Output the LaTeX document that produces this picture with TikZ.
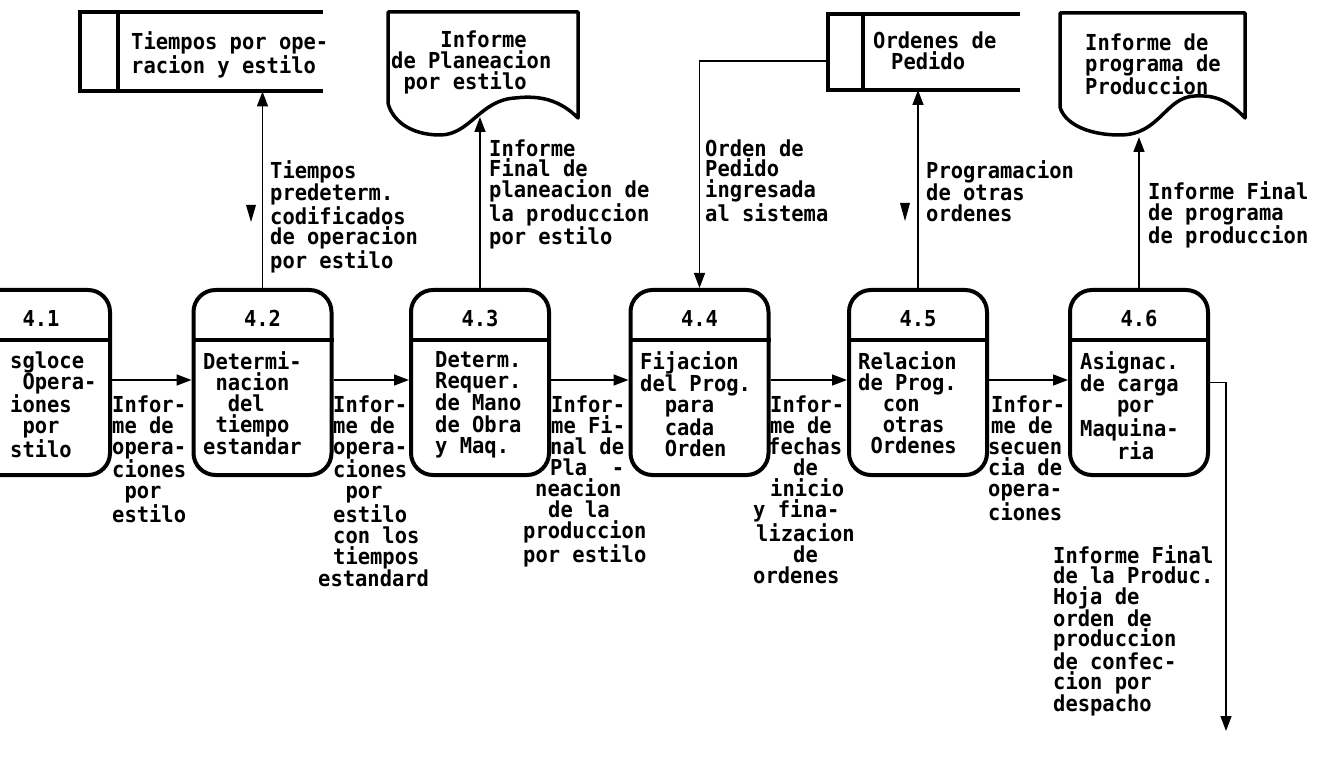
\documentclass[tikz,border=0pt]{standalone}
\usepackage{fontspec}
\newfontfamily\dmono[FakeStretch=0.93]{DejaVu Sans Mono}
\usetikzlibrary{arrows.meta}
\newlength\cw
\setlength\cw{12.32pt}
\newcommand\ind[1]{\hspace*{#1\cw}}
\newcommand\asc{\vphantom{Ifdl}}
\tikzset{
  proc/.style={draw, line width=4pt, rectangle, rounded corners=22pt, minimum width=138pt, minimum height=185pt, inner sep=0pt},
  divline/.style={line width=4pt},
  box0/.style={inner sep=0pt, outer sep=0pt, rectangle},
  store/.style={line width=4pt},
  doc/.style={line width=3.5pt, line join=round},
  flow/.style={line width=1.5pt, -{Triangle[length=15pt,width=11pt]}},
  lab/.style={font=\dmono\bfseries\fontsize{22}{21.1}\selectfont, inner sep=0pt, align=left, anchor=north west, yshift=16.72pt, execute at begin node=\asc},
  labt/.style={lab, font=\dmono\bfseries\fontsize{22}{20.7}\selectfont},
  ttl/.style={font=\dmono\bfseries\fontsize{22}{21}\selectfont, inner sep=0pt, anchor=base},
  tri/.style={fill=black}
}
\begin{document}
\begin{tikzpicture}[x=1pt,y=-1pt]
\useasboundingbox (0,0) rectangle (1323,759);
\clip (0,0) rectangle (1323,759);

% process boxes
\foreach \n/\cx in {41/41, 42/262.5, 43/480, 44/699.5, 45/918, 46/1139}{
  \node[proc] (p\n) at (\cx,382.5) {};
  \draw[divline] (p\n.west |- 0,340) -- (p\n.east |- 0,340);
}
\node[ttl] (t41) at (p41.center |- 0,327) {4.1};
\node[ttl] (t42) at (p42.center |- 0,327) {4.2};
\node[ttl] (t43) at (p43.center |- 0,327) {4.3};
\node[ttl] (t44) at (p44.center |- 0,327) {4.4};
\node[ttl] (t45) at (p45.center |- 0,327) {4.5};
\node[ttl] (t46) at (p46.center |- 0,327) {4.6};

\node[lab] (b41) at (10,368) {sgloce\\\ind{1}Opera-\\iones\\\ind{1}por\\stilo};
\node[lab] (b42) at (203,368) {Determi-\\\ind{1}nacion\\\ind{2}del\\\ind{1}tiempo\\estandar};
\node[lab] (b43) at (435,368) {Determ.\\Requer.\\de Mano\\de Obra\\y Maq.};
\node[lab] (b44) at (640,368) {Fijacion\\del Prog.\\\ind{2}para\\\ind{2}cada\\\ind{2}Orden};
\node[lab] (b45) at (858,368) {Relacion\\de Prog.\\\ind{2}con\\\ind{2}otras\\\ind{1}Ordenes};
\node[lab] (b46) at (1080,368) {Asignac.\\de carga\\\ind{3}por\\Maquina-\\\ind{3}ria};

% horizontal flows
\draw[flow] ([yshift=2.5pt]p41.east) -- ([yshift=2.5pt]p42.west);
\draw[flow] ([yshift=2.5pt]p42.east) -- ([yshift=2.5pt]p43.west);
\draw[flow] ([yshift=2.5pt]p43.east) -- ([yshift=2.5pt]p44.west);
\draw[flow] ([yshift=2.5pt]p44.east) -- ([yshift=2.5pt]p45.west);
\draw[flow] ([yshift=2.5pt]p45.east) -- ([yshift=2.5pt]p46.west);

\node[lab] (l12) at (112,412) {Infor-\\me de\\opera-\\ciones\\\ind{1}por\\estilo};
\node[lab] (l23) at (333,412) {Infor-\\me de\\opera-\\ciones\\\ind{1}por\\estilo\\con los\\tiempos\\\hspace*{-15pt}estandard};
\node[lab] (l34) at (523,412) {\hspace*{28pt}Infor-\\\hspace*{28pt}me Fi-\\\hspace*{27pt}nal de\\\hspace*{27pt}Pla\ind{2}-\\\hspace*{12pt}neacion\\\hspace*{25pt}de la\\produccion\\por estilo};
\node[lab] (l45) at (753,412) {\hspace*{17pt}Infor-\\\hspace*{17pt}me de\\\hspace*{15pt}fechas\\\hspace*{40pt}de\\\hspace*{17pt}inicio\\y fina-\\\hspace*{3pt}lizacion\\\hspace*{40pt}de\\ordenes};
\node[lab] (l56) at (988,412) {\hspace*{3pt}Infor-\\\hspace*{3pt}me de\\secuen\\cia de\\opera-\\ciones};

% data stores
\node[box0, minimum width=243pt, minimum height=79pt] (s1) at (201.5,52) {};
\draw[store] (s1.north east) -- (s1.north west) -- (s1.south west) -- (s1.south east);
\draw[store] ([xshift=38pt]s1.north west) -- ([xshift=38pt]s1.south west);
\node[lab] (s1t) at (131,48.5) {Tiempos por ope-\\racion y estilo};

\node[box0, minimum width=192pt, minimum height=76pt] (s2) at (924,52) {};
\draw[store] (s2.north east) -- (s2.north west) -- (s2.south west) -- (s2.south east);
\draw[store] ([xshift=35pt]s2.north west) -- ([xshift=35pt]s2.south west);
\node[lab] (s2t) at (873,48) {Ordenes de\\\hspace*{18pt}Pedido};

% documents
\draw[doc] (388,12) -- (578,12) -- (578,118) .. controls (560,100) and (540,95) .. (515,98) .. controls (480,100) and (470,135) .. (440,135) .. controls (410,135) and (392,120) .. (388,103) -- cycle;
\coordinate (d1b) at (480,117);
\node[lab] (d1t) at (391,47) {\ind{4}Informe\\de Planeacion\\\ind{1}por estilo};

\draw[doc] (1060,13) -- (1245,13) -- (1245,118) .. controls (1228,100) and (1215,95) .. (1195,96) .. controls (1165,97) and (1160,135) .. (1120,135) .. controls (1085,135) and (1064,122) .. (1060,107) -- cycle;
\coordinate (d2b) at (1139,137);
\node[lab] (d2t) at (1085,50) {Informe de\\programa de\\Produccion};

% vertical flows
\draw[flow] (p42.north) -- (p42.north |- s1.south);
\draw[flow] (p43.north) -- (d1b);
\coordinate (s2in) at (828,61);
\draw[flow] (s2in) -| (p44.north);
\draw[flow] (p45.north) -- (p45.north |- s2.south);
\draw[flow] (p46.north) -- (d2b);
\coordinate (outend) at (1226,731);
\draw[flow] (p46.east) -| (outend);

\fill[tri] (246,205) -- (256,205) -- (251,222) -- cycle;
\fill[tri] (900,203) -- (910,203) -- (905,221) -- cycle;

\node[labt] (f1) at (270,177) {Tiempos\\predeterm.\\codificados\\de operacion\\por estilo};
\node[labt] (f2) at (489,156) {Informe\\Final de\\planeacion de\\la produccion\\por estilo};
\node[labt] (f3) at (705,156) {Orden de\\Pedido\\ingresada\\al sistema};
\node[labt] (f4) at (926,177) {Programacion\\de otras\\ordenes};
\node[labt] (f5) at (1148,198) {Informe Final\\de programa\\de produccion};
\node[lab, font=\dmono\bfseries\fontsize{22}{20.4}\selectfont] (f6) at (1053,562) {Informe Final\\de la Produc.\\Hoja de\\orden de\\produccion\\de confec-\\cion por\\despacho};
\end{tikzpicture}
\end{document}
